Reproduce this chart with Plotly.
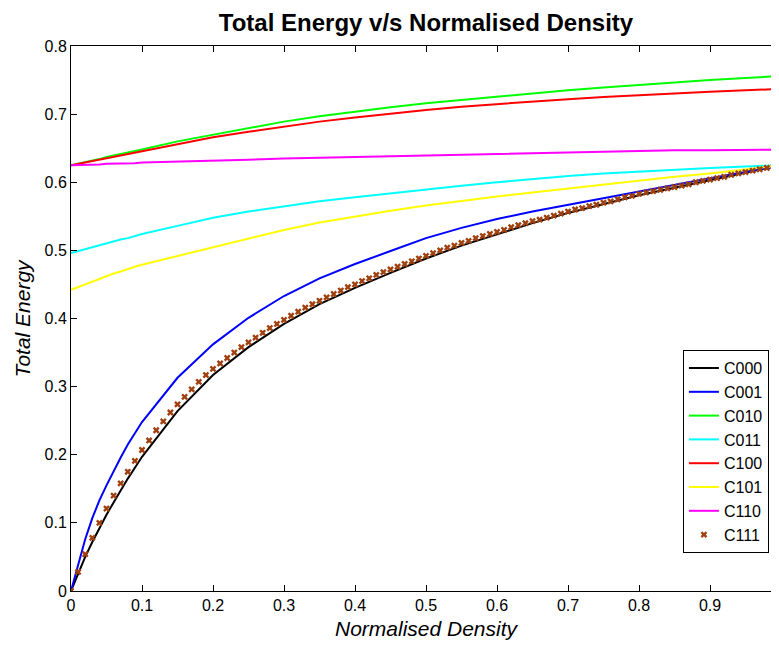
import plotly.graph_objects as go

# x grid for the line series
x_line = [0.0, 0.01, 0.02, 0.03, 0.04, 0.05, 0.06, 0.07, 0.08, 0.09, 0.10,
          0.15, 0.20, 0.25, 0.30, 0.35, 0.40, 0.45, 0.50, 0.55, 0.60,
          0.65, 0.70, 0.75, 0.80, 0.85, 0.90, 0.95, 1.00]

c000 = [0.000, 0.026, 0.050, 0.072, 0.093, 0.112, 0.130, 0.148, 0.165, 0.181, 0.197,
        0.264, 0.317, 0.358, 0.392, 0.421, 0.445, 0.467, 0.488, 0.507, 0.524,
        0.540, 0.555, 0.568, 0.581, 0.592, 0.603, 0.614, 0.625]

c001 = [0.000, 0.040, 0.076, 0.107, 0.133, 0.155, 0.176, 0.196, 0.215, 0.232, 0.248,
        0.313, 0.362, 0.401, 0.433, 0.459, 0.480, 0.499, 0.518, 0.533, 0.546,
        0.557, 0.567, 0.577, 0.587, 0.597, 0.606, 0.615, 0.625]

c010 = [0.625, 0.627, 0.630, 0.632, 0.634, 0.637, 0.639, 0.641, 0.643, 0.646, 0.648,
        0.660, 0.670, 0.680, 0.689, 0.697, 0.704, 0.710, 0.716, 0.721, 0.726,
        0.731, 0.735, 0.739, 0.743, 0.747, 0.750, 0.753, 0.756]

c011 = [0.496, 0.499, 0.502, 0.505, 0.507, 0.510, 0.513, 0.516, 0.518, 0.521, 0.524,
        0.536, 0.548, 0.557, 0.565, 0.572, 0.578, 0.584, 0.589, 0.595, 0.600,
        0.605, 0.609, 0.613, 0.616, 0.619, 0.621, 0.623, 0.625]

c100 = [0.625, 0.627, 0.629, 0.632, 0.634, 0.636, 0.638, 0.640, 0.642, 0.644, 0.646,
        0.656, 0.666, 0.674, 0.682, 0.689, 0.695, 0.701, 0.706, 0.711, 0.715,
        0.719, 0.722, 0.725, 0.728, 0.731, 0.733, 0.735, 0.737]

c101 = [0.442, 0.446, 0.451, 0.455, 0.459, 0.463, 0.466, 0.469, 0.473, 0.476, 0.479,
        0.492, 0.505, 0.518, 0.530, 0.541, 0.550, 0.558, 0.566, 0.573, 0.579,
        0.585, 0.591, 0.597, 0.603, 0.608, 0.613, 0.619, 0.625]

c110 = [0.625, 0.625, 0.625, 0.626, 0.626, 0.627, 0.627, 0.627, 0.628, 0.628, 0.629,
        0.630, 0.632, 0.633, 0.635, 0.636, 0.637, 0.639, 0.640, 0.641, 0.642,
        0.643, 0.644, 0.645, 0.646, 0.647, 0.647, 0.648, 0.648]

# C111 sampled every 0.01
x_c111 = [i / 100 for i in range(101)]
c111 = [0.000, 0.028, 0.054, 0.078, 0.100, 0.121, 0.140, 0.158, 0.175, 0.191,
        0.207, 0.221, 0.236, 0.249, 0.262, 0.274, 0.285, 0.296, 0.307, 0.317,
        0.326, 0.334, 0.342, 0.350, 0.358, 0.365, 0.372, 0.379, 0.386, 0.392,
        0.398, 0.404, 0.410, 0.416, 0.421, 0.426, 0.431, 0.436, 0.441, 0.446,
        0.450, 0.455, 0.459, 0.464, 0.468, 0.472, 0.476, 0.480, 0.484, 0.488,
        0.492, 0.496, 0.500, 0.504, 0.507, 0.511, 0.514, 0.518, 0.521, 0.524,
        0.527, 0.530, 0.534, 0.537, 0.540, 0.543, 0.545, 0.548, 0.551, 0.554,
        0.557, 0.560, 0.562, 0.565, 0.567, 0.570, 0.572, 0.575, 0.578, 0.580,
        0.583, 0.585, 0.587, 0.589, 0.591, 0.593, 0.595, 0.597, 0.600, 0.602,
        0.604, 0.606, 0.608, 0.611, 0.613, 0.615, 0.617, 0.619, 0.621, 0.623,
        0.625]

series_names = ["C000", "C001", "C010", "C011", "C100", "C101", "C110"]
series_vals = [c000, c001, c010, c011, c100, c101, c110]
series_colors = ["#000000", "#0000FF", "#00FF00", "#00FFFF", "#FF0000", "#FFFF00", "#FF00FF"]

x_ticks = [0, 0.1, 0.2, 0.3, 0.4, 0.5, 0.6, 0.7, 0.8, 0.9, 1.0]
x_ticktext = ["0", "0.1", "0.2", "0.3", "0.4", "0.5", "0.6", "0.7", "0.8", "0.9", "1"]
y_ticks = [0, 0.1, 0.2, 0.3, 0.4, 0.5, 0.6, 0.7, 0.8]
y_ticktext = ["0", "0.1", "0.2", "0.3", "0.4", "0.5", "0.6", "0.7", "0.8"]

FONT = "Liberation Sans, Arial, sans-serif"

fig = go.Figure()
for name, vals, col in zip(series_names, series_vals, series_colors):
    fig.add_trace(go.Scatter(x=x_line, y=vals, mode="lines", name=name,
                             line=dict(color=col, width=2)))
fig.add_trace(go.Scatter(x=x_c111, y=c111, mode="markers", name="C111",
                         marker=dict(symbol="x", size=6, color="#A0400F",
                                     line=dict(width=0))))

fig.update_layout(
    width=773, height=646,
    margin=dict(l=63, r=0, t=38, b=63, autoexpand=False),
    paper_bgcolor="white", plot_bgcolor="white",
    font=dict(family=FONT, size=16, color="black"),
    title=dict(text="<b>Total Energy v/s Normalised Density</b>",
               x=0.5, xref="paper", xanchor="center",
               y=1 - 15 / 646, yref="container", yanchor="middle",
               font=dict(family=FONT, size=24, color="black")),
    xaxis=dict(range=[0, 1], tickvals=x_ticks, ticktext=x_ticktext,
               ticks="inside", ticklen=6, tickcolor="black", automargin=False,
               showline=True, linecolor="black", linewidth=1, mirror="ticks",
               showgrid=False, zeroline=False,
               title=dict(text="<i>Normalised Density</i>", standoff=8,
                          font=dict(family=FONT, size=21))),
    yaxis=dict(range=[0, 0.8], tickvals=y_ticks, ticktext=y_ticktext,
               ticks="inside", ticklen=6, tickcolor="black", automargin=False,
               showline=True, linecolor="black", linewidth=1, mirror="ticks",
               showgrid=False, zeroline=False),
    annotations=[dict(text="<i>Total Energy</i>", textangle=-90,
                      xref="paper", yref="paper", x=-0.069, y=0.5,
                      xanchor="center", yanchor="middle", showarrow=False,
                      font=dict(family=FONT, size=21, color="black"))],
    legend=dict(x=0.983, y=0.442, xanchor="right", yanchor="top",
                bgcolor="white", bordercolor="black", borderwidth=1,
                font=dict(family=FONT, size=16), tracegroupgap=0),
    showlegend=True,
)

fig.write_html("out.html")
